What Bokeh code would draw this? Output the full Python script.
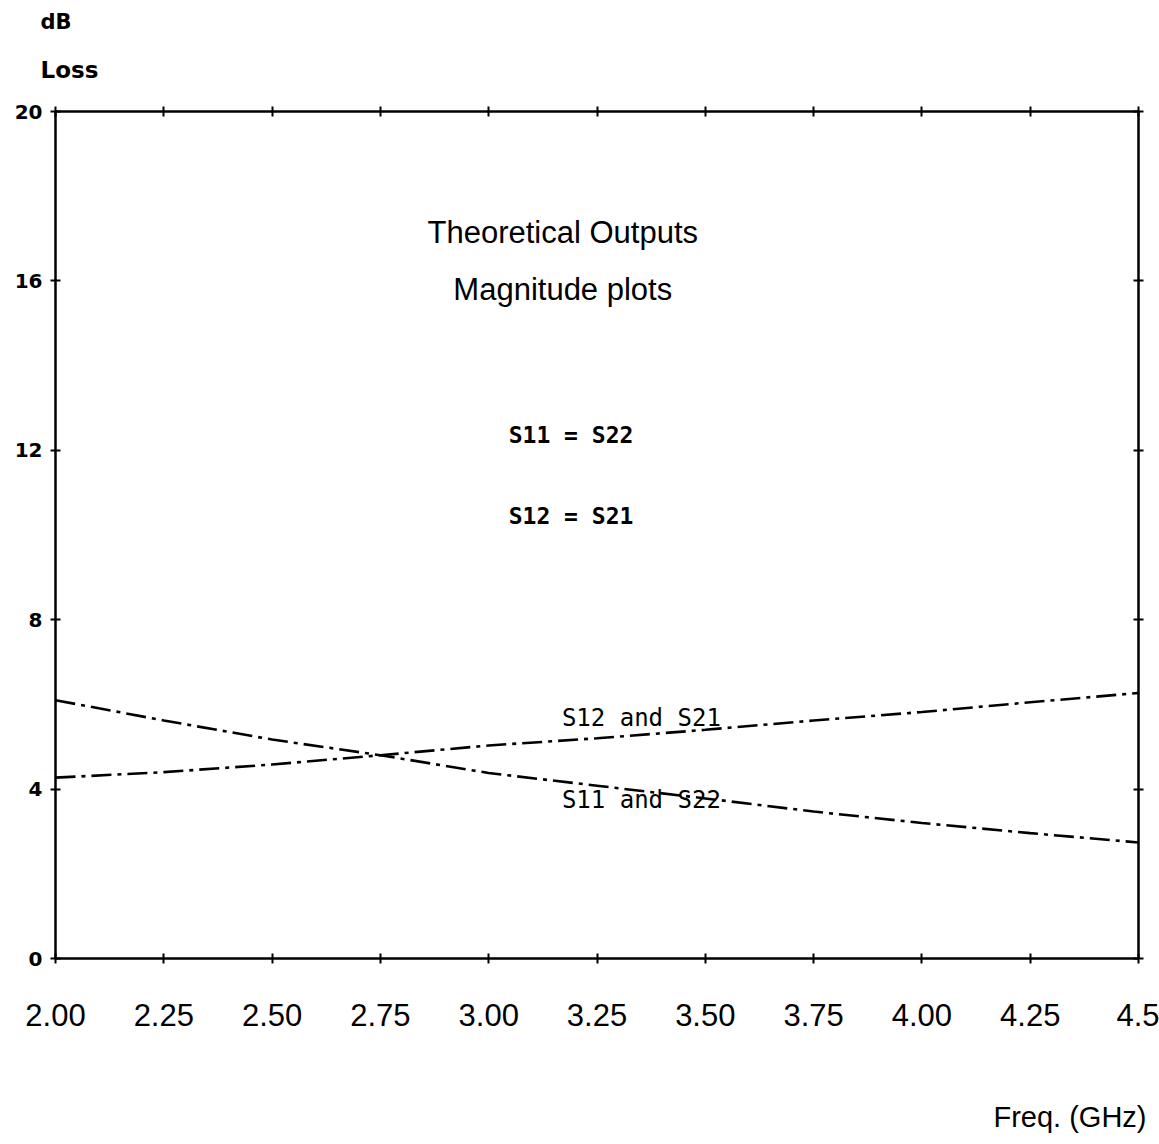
from bokeh.plotting import figure
from bokeh.models import (LinearAxis, FixedTicker, Label, Range1d, ColumnDataSource, Title)
from bokeh.embed import file_html
from bokeh.resources import INLINE

# ---- data ----
freq = [2.00, 2.25, 2.50, 2.75, 3.00, 3.25, 3.50, 3.75, 4.00, 4.25, 4.50]
s11_s22 = [6.10, 5.62, 5.17, 4.80, 4.38, 4.08, 3.78, 3.47, 3.20, 2.96, 2.74]
s12_s21 = [4.27, 4.40, 4.58, 4.80, 5.03, 5.20, 5.40, 5.62, 5.82, 6.05, 6.27]

x_ticks = [2.00, 2.25, 2.50, 2.75, 3.00, 3.25, 3.50, 3.75, 4.00, 4.25, 4.50]
x_tick_labels = ["2.00", "2.25", "2.50", "2.75", "3.00", "3.25", "3.50",
                 "3.75", "4.00", "4.25", "4.5"]
y_ticks = [0, 4, 8, 12, 16, 20]
y_tick_labels = ["0", "4", "8", "12", "16", "20"]

title_lines = ["Theoretical Outputs", "Magnitude plots"]
eq_lines = ["S11 = S22", "S12 = S21"]
series_names = ["S11 and S22", "S12 and S21"]

p = figure(width=1159, height=1144, output_backend="svg", toolbar_location=None,
           x_range=Range1d(2.0, 4.5), y_range=Range1d(0, 20),
           x_axis_location=None, y_axis_location=None,
           min_border_left=55, min_border_right=21,
           min_border_top=111, min_border_bottom=186)
p.xgrid.visible = False
p.ygrid.visible = False
p.outline_line_color = "black"
p.outline_line_width = 2
p.background_fill_color = "white"
p.border_fill_color = "white"


def style_axis(ax, ticks, labels, font_size, font, bold, standoff):
    ax.ticker = FixedTicker(ticks=ticks)
    ax.major_label_overrides = {t: l for t, l in zip(ticks, labels)}
    ax.major_tick_in = 5
    ax.major_tick_out = 5
    ax.major_tick_line_width = 2
    ax.minor_tick_line_color = None
    ax.axis_line_width = 2
    ax.major_label_text_font = font
    ax.major_label_text_font_size = font_size
    ax.major_label_text_font_style = "bold" if bold else "normal"
    ax.major_label_text_color = "black"
    ax.major_label_standoff = standoff


xb = LinearAxis()
style_axis(xb, x_ticks, x_tick_labels, "31px", "Liberation Sans", False, 40)
# blank axis label used only as a spacer so the x title sits lower
xb.axis_label = " "
xb.axis_label_standoff = 68
xb.axis_label_text_font_size = "1px"
p.add_layout(xb, "below")
xa = LinearAxis()
style_axis(xa, x_ticks, [""] * len(x_ticks), "1px", "Liberation Sans", False, 0)
p.add_layout(xa, "above")

yl = LinearAxis()
style_axis(yl, y_ticks, y_tick_labels, "20px", "DejaVu Sans", True, 8)
p.add_layout(yl, "left")
yr = LinearAxis()
style_axis(yr, y_ticks, [""] * len(y_ticks), "1px", "DejaVu Sans", False, 0)
p.add_layout(yr, "right")

src = ColumnDataSource(dict(f=freq, a=s11_s22, b=s12_s21))
p.line("f", "a", source=src, line_color="black", line_width=2.6, line_dash="20 6 4 6")
p.line("f", "b", source=src, line_color="black", line_width=2.6, line_dash="20 6 4 6")

# titles in plot
for txt, yy in zip(title_lines, [17.14, 15.80]):
    p.add_layout(Label(x=3.171, y=yy, text=txt, text_align="center", text_baseline="middle",
                       text_font="Liberation Sans", text_font_size="31px", text_color="black"))
for txt, yy in zip(eq_lines, [12.35, 10.46]):
    p.add_layout(Label(x=3.19, y=yy, text=txt, text_align="center", text_baseline="middle",
                       text_font="DejaVu Sans Mono", text_font_size="23px",
                       text_font_style="bold", text_color="black"))
for txt, yy in zip(series_names, [3.75, 5.67]):
    p.add_layout(Label(x=3.169, y=yy, text=txt, text_align="left", text_baseline="middle",
                       text_font="DejaVu Sans Mono", text_font_size="24px",
                       text_color="black"))

# x-axis title (below panel, right aligned)
t_freq = Title(text="Freq. (GHz)", align="right", offset=-8, standoff=0, vertical_align="top",
               text_color="black", text_font="Liberation Sans", text_font_size="29px",
               text_font_style="normal")
p.add_layout(t_freq, "below")

# y-axis titles (in the top side panel)
t_loss = Title(text="Loss", align="left", offset=-15, standoff=43, vertical_align="top",
               text_color="black", text_font="DejaVu Sans", text_font_size="23px",
               text_font_style="bold")
p.add_layout(t_loss, "above")
t_db = Title(text="dB", align="left", offset=-15, standoff=0, vertical_align="top",
             text_color="black", text_font="DejaVu Sans", text_font_size="21px",
             text_font_style="bold")
p.add_layout(t_db, "above")

open("out.html", "w").write(file_html(p, INLINE))
